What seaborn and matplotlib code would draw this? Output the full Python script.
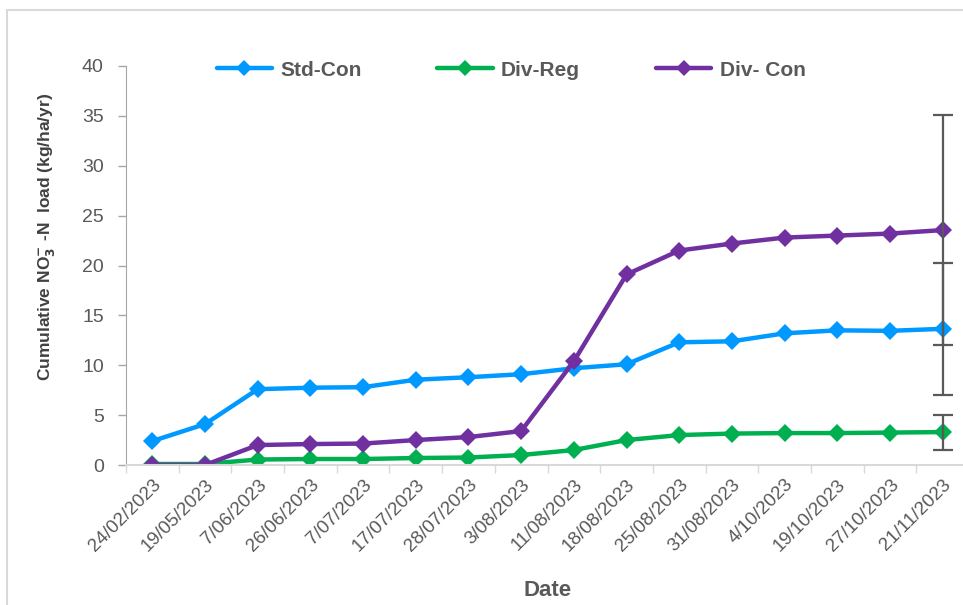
import numpy as np
import pandas as pd
import matplotlib
matplotlib.use('Agg')
import matplotlib.pyplot as plt
import seaborn as sns
from matplotlib.patches import Rectangle

# Data
dates = ['24/02/2023', '19/05/2023', '7/06/2023', '26/06/2023', '7/07/2023',
         '17/07/2023', '28/07/2023', '3/08/2023', '11/08/2023', '18/08/2023',
         '25/08/2023', '31/08/2023', '4/10/2023', '19/10/2023', '27/10/2023',
         '21/11/2023']
std_con = [2.4, 4.1, 7.6, 7.75, 7.8, 8.55, 8.8, 9.1, 9.7, 10.1,
           12.3, 12.4, 13.2, 13.5, 13.45, 13.65]
div_reg = [0.1, 0.1, 0.55, 0.6, 0.6, 0.7, 0.75, 1.0, 1.5, 2.5,
           3.0, 3.15, 3.2, 3.2, 3.25, 3.3]
div_con = [0.0, 0.0, 2.0, 2.1, 2.15, 2.5, 2.8, 3.4, 10.4, 19.1,
           21.5, 22.2, 22.8, 23.0, 23.2, 23.55]
# error bars only on the final date
final_err = {'Std-Con': 6.65, 'Div-Reg': 1.75, 'Div- Con': 11.5}

series = ['Std-Con', 'Div-Reg', 'Div- Con']
colors = {'Std-Con': '#0099FF', 'Div-Reg': '#00B050', 'Div- Con': '#7030A0'}

df = pd.DataFrame({
    'date': dates * 3,
    'load': std_con + div_reg + div_con,
    'series': np.repeat(series, len(dates)),
})

sns.set_style('white')
plt.rcParams['font.family'] = ['Liberation Sans', 'DejaVu Sans']

fig = plt.figure(figsize=(9.63, 6.05), dpi=100)
ax = fig.add_axes([126 / 963, 140 / 605, 843 / 963, 399 / 605])

sns.lineplot(data=df, x='date', y='load', hue='series', palette=colors,
             marker='D', markersize=9, markeredgewidth=0, linewidth=3.2,
             sort=False, ax=ax, legend=False)

# error bars at last point
last = len(dates) - 1
for s, vals in zip(series, [std_con, div_reg, div_con]):
    ax.errorbar(last, vals[-1], yerr=final_err[s], fmt='none',
                ecolor='#595959', elinewidth=1.6, capsize=7, capthick=1.6,
                zorder=5)

ax.set_xlim(-0.5, len(dates) - 0.5)
ax.set_ylim(0, 40)
ax.set_yticks(range(0, 41, 5))
ax.tick_params(axis='y', labelsize=14, labelcolor='#595959', colors='#A6A6A6',
               length=6, width=1, direction='out', left=True, pad=10)
ax.set_xticks(range(len(dates)))
ax.set_xticklabels(dates, rotation=45, ha='right', rotation_mode='anchor',
                   fontsize=13.5, color='#595959')
ax.tick_params(axis='x', which='major', length=0, pad=8)
ax.set_xticks(np.arange(-0.5, len(dates), 1), minor=True)
ax.tick_params(axis='x', which='minor', length=6, color='#D9D9D9', width=1,
               bottom=True)

for side in ['top', 'right']:
    ax.spines[side].set_visible(False)
ax.spines['left'].set_color('#A6A6A6')
ax.spines['bottom'].set_color('#D9D9D9')
ax.spines['bottom'].set_linewidth(1.5)

ax.set_xlabel('Date', fontsize=16, fontweight='bold', color='#595959')
ax.xaxis.set_label_coords(0.5, (465 - 590) / 399)
ax.xaxis.label.set_va('center')
ax.set_ylabel(r'Cumulative NO$_\mathbf{3}^{\mathbf{-}}$ -N  load (kg/ha/yr)',
              fontsize=12.5, fontweight='bold', color='#404040')
ax.yaxis.set_label_coords((47 - 126) / 843, (465 - 237) / 399)
ax.yaxis.label.set_va('center')

handles = [plt.Line2D([], [], color=colors[s], marker='D', markersize=8,
                      markeredgewidth=0, linewidth=3.2) for s in series]
fig.legend(handles, series, loc='center', bbox_to_anchor=(511 / 963, 1 - 70 / 605),
           ncol=3, frameon=False, handlelength=2.65, handletextpad=0.4,
           columnspacing=3.65, prop={'weight': 'bold', 'size': 15},
           labelcolor='#595959')

# outer chart border
fig.add_artist(Rectangle((7 / 963, -0.05), 1.1, 1.05 - 10 / 605,
                         transform=fig.transFigure, fill=False,
                         edgecolor='#D9D9D9', linewidth=1.5))

fig.savefig('out.png', dpi=100)
